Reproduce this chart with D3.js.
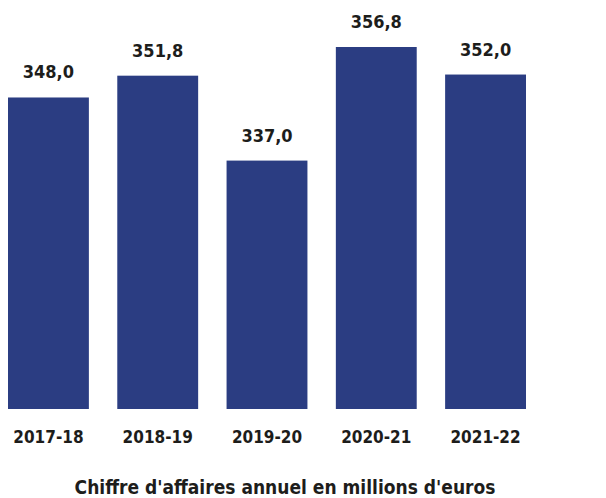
<!DOCTYPE html>
<html lang="fr">
  <head>
    <meta charset="UTF-8" />
    <title>Chiffre d'affaires annuel</title>
    <style>
      body {
        margin: 0;
        overflow: hidden;
        background: #fff;
      }
      text {
        font-family: "DejaVu Sans Condensed", "DejaVu Sans", sans-serif;
        font-weight: bold;
        fill: #1d1d1b;
      }
    </style>
    <script src="https://unpkg.com/d3@7.8.1/dist/d3.min.js"></script>
  </head>
  <body>
    <script>
      const { select, scaleLinear, scaleBand } = d3;

      // data
      const years = ["2017-18", "2018-19", "2019-20", "2020-21", "2021-22"];
      const revenue = [348.0, 351.8, 337.0, 356.8, 352.0];
      const labels = ["348,0", "351,8", "337,0", "356,8", "352,0"];
      const caption = "Chiffre d'affaires annuel en millions d'euros";

      const width = 606;
      const height = 498;
      const baseY = 409;

      const svg = select("body")
        .append("svg")
        .attr("width", width)
        .attr("height", height);

      const x = scaleBand()
        .domain(years)
        .range([-6.2, 540.2])
        .paddingInner(0.26)
        .paddingOuter(0.13);

      // axis does not start at zero in the original
      const y = scaleLinear()
        .domain([293.7, 356.8])
        .range([baseY, 47]);

      const rows = years.map((d, i) => ({ year: d, value: revenue[i], label: labels[i] }));

      svg.selectAll("rect")
        .data(rows)
        .enter()
        .append("rect")
        .attr("x", d => x(d.year))
        .attr("y", d => y(d.value))
        .attr("width", x.bandwidth())
        .attr("height", d => baseY - y(d.value))
        .attr("fill", "#2b3d82");

      svg.selectAll(".val")
        .data(rows)
        .enter()
        .append("text")
        .attr("class", "val")
        .attr("x", d => x(d.year) + x.bandwidth() / 2)
        .attr("y", d => y(d.value) - 19)
        .attr("text-anchor", "middle")
        .style("font-size", "18px")
        .text(d => d.label);

      svg.selectAll(".yr")
        .data(rows)
        .enter()
        .append("text")
        .attr("class", "yr")
        .attr("x", d => x(d.year) + x.bandwidth() / 2)
        .attr("y", 443)
        .attr("text-anchor", "middle")
        .style("font-size", "17px")
        .text(d => d.year);

      svg.append("text")
        .attr("x", 285)
        .attr("y", 494)
        .attr("text-anchor", "middle")
        .style("font-size", "19px")
        .text(caption);
    </script>
  </body>
</html>
